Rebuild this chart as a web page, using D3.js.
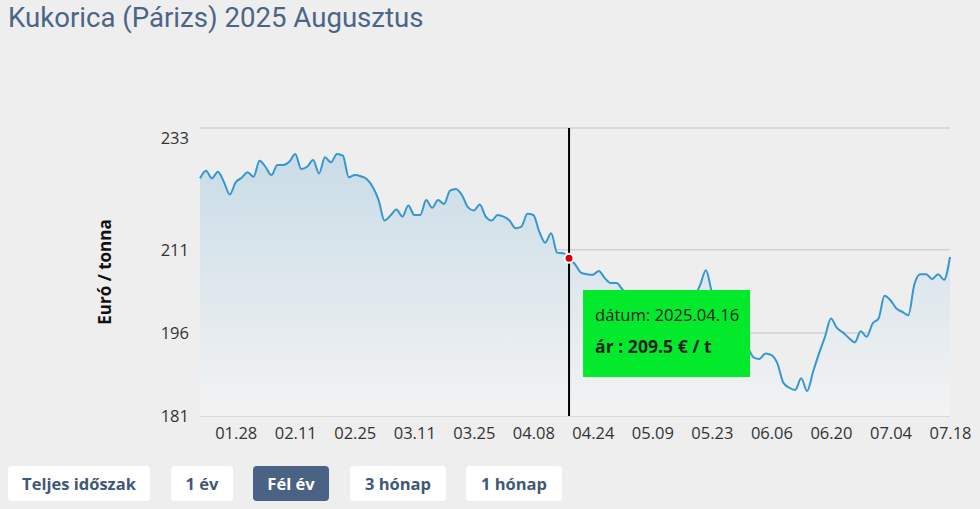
<!DOCTYPE html>
<html><head><meta charset="utf-8">
<script src="https://cdn.jsdelivr.net/npm/d3@7"></script>
<style>html,body{margin:0;padding:0;background:#eeeeee;}svg{display:block;}</style>
</head><body><svg id="c" width="980" height="509"></svg>
<script>
const title = "Kukorica (Párizs) 2025 Augusztus";
const yLabel = "Euró / tonna";
const dates = [
"2025.01.20","2025.01.21","2025.01.22","2025.01.23","2025.01.24","2025.01.27","2025.01.28","2025.01.29","2025.01.30","2025.01.31",
"2025.02.03","2025.02.04","2025.02.05","2025.02.06","2025.02.07","2025.02.10","2025.02.11","2025.02.12","2025.02.13","2025.02.14",
"2025.02.17","2025.02.18","2025.02.19","2025.02.20","2025.02.21","2025.02.24","2025.02.25","2025.02.26","2025.02.27","2025.02.28",
"2025.03.03","2025.03.04","2025.03.05","2025.03.06","2025.03.07","2025.03.10","2025.03.11","2025.03.12","2025.03.13","2025.03.14",
"2025.03.17","2025.03.18","2025.03.19","2025.03.20","2025.03.21","2025.03.24","2025.03.25","2025.03.26","2025.03.27","2025.03.28",
"2025.03.31","2025.04.01","2025.04.02","2025.04.03","2025.04.04","2025.04.07","2025.04.08","2025.04.09","2025.04.10","2025.04.11",
"2025.04.14","2025.04.15","2025.04.16","2025.04.17","2025.04.22","2025.04.23","2025.04.24","2025.04.25","2025.04.28","2025.04.29",
"2025.04.30","2025.05.02","2025.05.05","2025.05.06","2025.05.07","2025.05.08","2025.05.09","2025.05.12","2025.05.13","2025.05.14",
"2025.05.15","2025.05.16","2025.05.19","2025.05.20","2025.05.21","2025.05.22","2025.05.23","2025.05.26","2025.05.27","2025.05.28",
"2025.05.29","2025.05.30","2025.06.02","2025.06.03","2025.06.04","2025.06.05","2025.06.06","2025.06.09","2025.06.10","2025.06.11",
"2025.06.12","2025.06.13","2025.06.16","2025.06.17","2025.06.18","2025.06.19","2025.06.20","2025.06.23","2025.06.24","2025.06.25",
"2025.06.26","2025.06.27","2025.06.30","2025.07.01","2025.07.02","2025.07.03","2025.07.04","2025.07.07","2025.07.08","2025.07.09",
"2025.07.10","2025.07.11","2025.07.14","2025.07.15","2025.07.16","2025.07.17","2025.07.18"
];
const prices = [
223.9,225.3,223.9,225.1,223.3,221.0,223.2,224.0,225.0,224.2,
227.1,226.0,224.5,226.3,226.3,226.9,228.3,225.6,226.0,227.2,
224.8,227.7,226.8,228.3,228.0,224.1,224.5,224.3,223.8,222.4,
220.0,216.3,217.2,218.3,217.0,219.0,217.3,217.3,220.0,218.6,
220.0,219.3,221.7,222.0,220.9,218.7,218.1,219.2,217.0,216.3,
217.3,217.0,216.3,214.9,215.2,217.5,217.3,214.3,212.3,214.0,
210.5,210.4,209.5,208.4,206.9,206.6,206.5,207.2,205.9,205.0,
205.0,203.8,203.2,202.5,202.8,201.9,201.2,201.8,200.9,200.5,
201.3,200.8,201.5,202.6,204.6,207.3,203.3,200.5,199.0,197.8,
196.3,194.6,193.4,191.6,191.3,192.3,192.0,190.5,187.0,186.1,
185.7,187.8,185.5,189.0,192.3,195.3,198.6,196.9,196.1,195.1,
194.3,196.3,195.3,197.7,198.6,202.7,201.9,200.4,199.8,199.2,
204.7,206.6,206.6,205.7,206.6,205.6,209.7
];
const yTicks = [181, 196, 211, 233];
const xLabelDates = ["2025.01.28","2025.02.11","2025.02.25","2025.03.11","2025.03.25","2025.04.08","2025.04.24","2025.05.09","2025.05.23","2025.06.06","2025.06.20","2025.07.04","2025.07.18"];
const hoverDate = "2025.04.16";
const buttons = ["Teljes időszak", "1 év", "Fél év", "3 hónap", "1 hónap"];
const activeButton = "Fél év";

const svg = d3.select("#c");
const W = 980, H = 509;
const mLeft = 200, mRight = 950, mTop = 128, mBottom = 416;
const buttonBoxes = [[8, 142], [171, 62], [253, 76], [350, 96], [466, 96]];

svg.append("rect").attr("width", W).attr("height", H).attr("fill", "#eeeeee");

svg.append("text").attr("x", 8).attr("y", 27)
  .attr("font-family", "Roboto, sans-serif").attr("font-size", 27.6)
  .attr("fill", "#4b6587").text(title);

const x = d3.scalePoint().domain(dates).range([mLeft, mRight]);
const y = d3.scaleLinear().domain([181, 233]).range([mBottom, mTop]);

const data = dates.map((d, i) => ({d, v: prices[i]}));

const defs = svg.append("defs");
const g = defs.append("linearGradient").attr("id", "ag")
  .attr("gradientUnits", "userSpaceOnUse").attr("x1", 0).attr("x2", 0)
  .attr("y1", y(d3.max(prices))).attr("y2", mBottom);
g.append("stop").attr("offset", 0).attr("stop-color", "#c9dce7");
g.append("stop").attr("offset", 1).attr("stop-color", "#f3f3f3");

svg.append("g").selectAll("line").data(yTicks).join("line")
  .attr("x1", mLeft).attr("x2", mRight)
  .attr("y1", d => y(d)).attr("y2", d => y(d))
  .attr("stroke", "#d2d2d2").attr("stroke-width", 1.5);

const area = d3.area().x(d => x(d.d)).y0(mBottom).y1(d => y(d.v)).curve(d3.curveMonotoneX);
const line = d3.line().x(d => x(d.d)).y(d => y(d.v)).curve(d3.curveMonotoneX);

svg.append("path").datum(data).attr("d", area).attr("fill", "url(#ag)");
svg.append("path").datum(data).attr("d", line).attr("fill", "none")
  .attr("stroke", "#3597cf").attr("stroke-width", 2);

const yAxis = svg.append("g").attr("transform", `translate(${mLeft},0)`)
  .call(d3.axisLeft(y).tickValues(yTicks).tickSize(0).tickPadding(11).tickFormat(d3.format("d")));
yAxis.select(".domain").remove();
yAxis.selectAll("text").attr("font-family", "'Open Sans', sans-serif").attr("font-size", 16.5).attr("fill", "#333")
  .attr("dy", d => d === d3.max(yTicks) ? "0.95em" : "0.32em");

const xAxis = svg.append("g").attr("transform", `translate(0,${mBottom})`)
  .call(d3.axisBottom(x).tickValues(xLabelDates).tickSize(0).tickPadding(11).tickFormat(d => d.slice(5)));
xAxis.select(".domain").remove();
xAxis.selectAll("text").attr("font-family", "'Open Sans', sans-serif").attr("font-size", 16.5).attr("fill", "#333");

svg.append("text").attr("transform", `translate(111,${(mTop + mBottom) / 2}) rotate(-90)`)
  .attr("text-anchor", "middle")
  .attr("font-family", "'Open Sans', sans-serif").attr("font-size", 17).attr("font-weight", "bold")
  .attr("fill", "#111").text(yLabel);

const hi = dates.indexOf(hoverDate);
const hx = x(hoverDate), hy = y(prices[hi]);
svg.append("line").attr("x1", hx).attr("x2", hx).attr("y1", mTop).attr("y2", mBottom)
  .attr("stroke", "#000").attr("stroke-width", 2);
svg.append("circle").attr("cx", hx).attr("cy", hy).attr("r", 4.5)
  .attr("fill", "#e00000").attr("stroke", "#fff").attr("stroke-width", 2);

const tt = svg.append("g").attr("transform", `translate(${hx + 14},290)`);
tt.append("rect").attr("width", 167).attr("height", 87).attr("fill", "#03ea2d");
tt.append("text").attr("x", 12).attr("y", 31)
  .attr("font-family", "'Open Sans', sans-serif").attr("font-size", 16.6).attr("fill", "#222")
  .text("dátum: " + hoverDate);
tt.append("text").attr("x", 12).attr("y", 63)
  .attr("font-family", "'Open Sans', sans-serif").attr("font-size", 17.6).attr("font-weight", "bold").attr("fill", "#222")
  .text("ár : " + prices[hi].toFixed(1) + " € / t");

const bg = svg.append("g");
buttons.forEach((b, i) => {
  const [bx, bw] = buttonBoxes[i];
  const active = b === activeButton;
  bg.append("rect").attr("x", bx).attr("y", 466).attr("width", bw).attr("height", 35).attr("rx", 4)
    .attr("fill", active ? "#4a6385" : "#ffffff");
  bg.append("text").attr("x", bx + bw / 2).attr("y", 489.5)
    .attr("font-family", "'Open Sans', sans-serif").attr("font-size", 16.5).attr("font-weight", "bold")
    .attr("fill", active ? "#ffffff" : "#3f5878").attr("text-anchor", "middle").text(b);
});
</script>
</body></html>
